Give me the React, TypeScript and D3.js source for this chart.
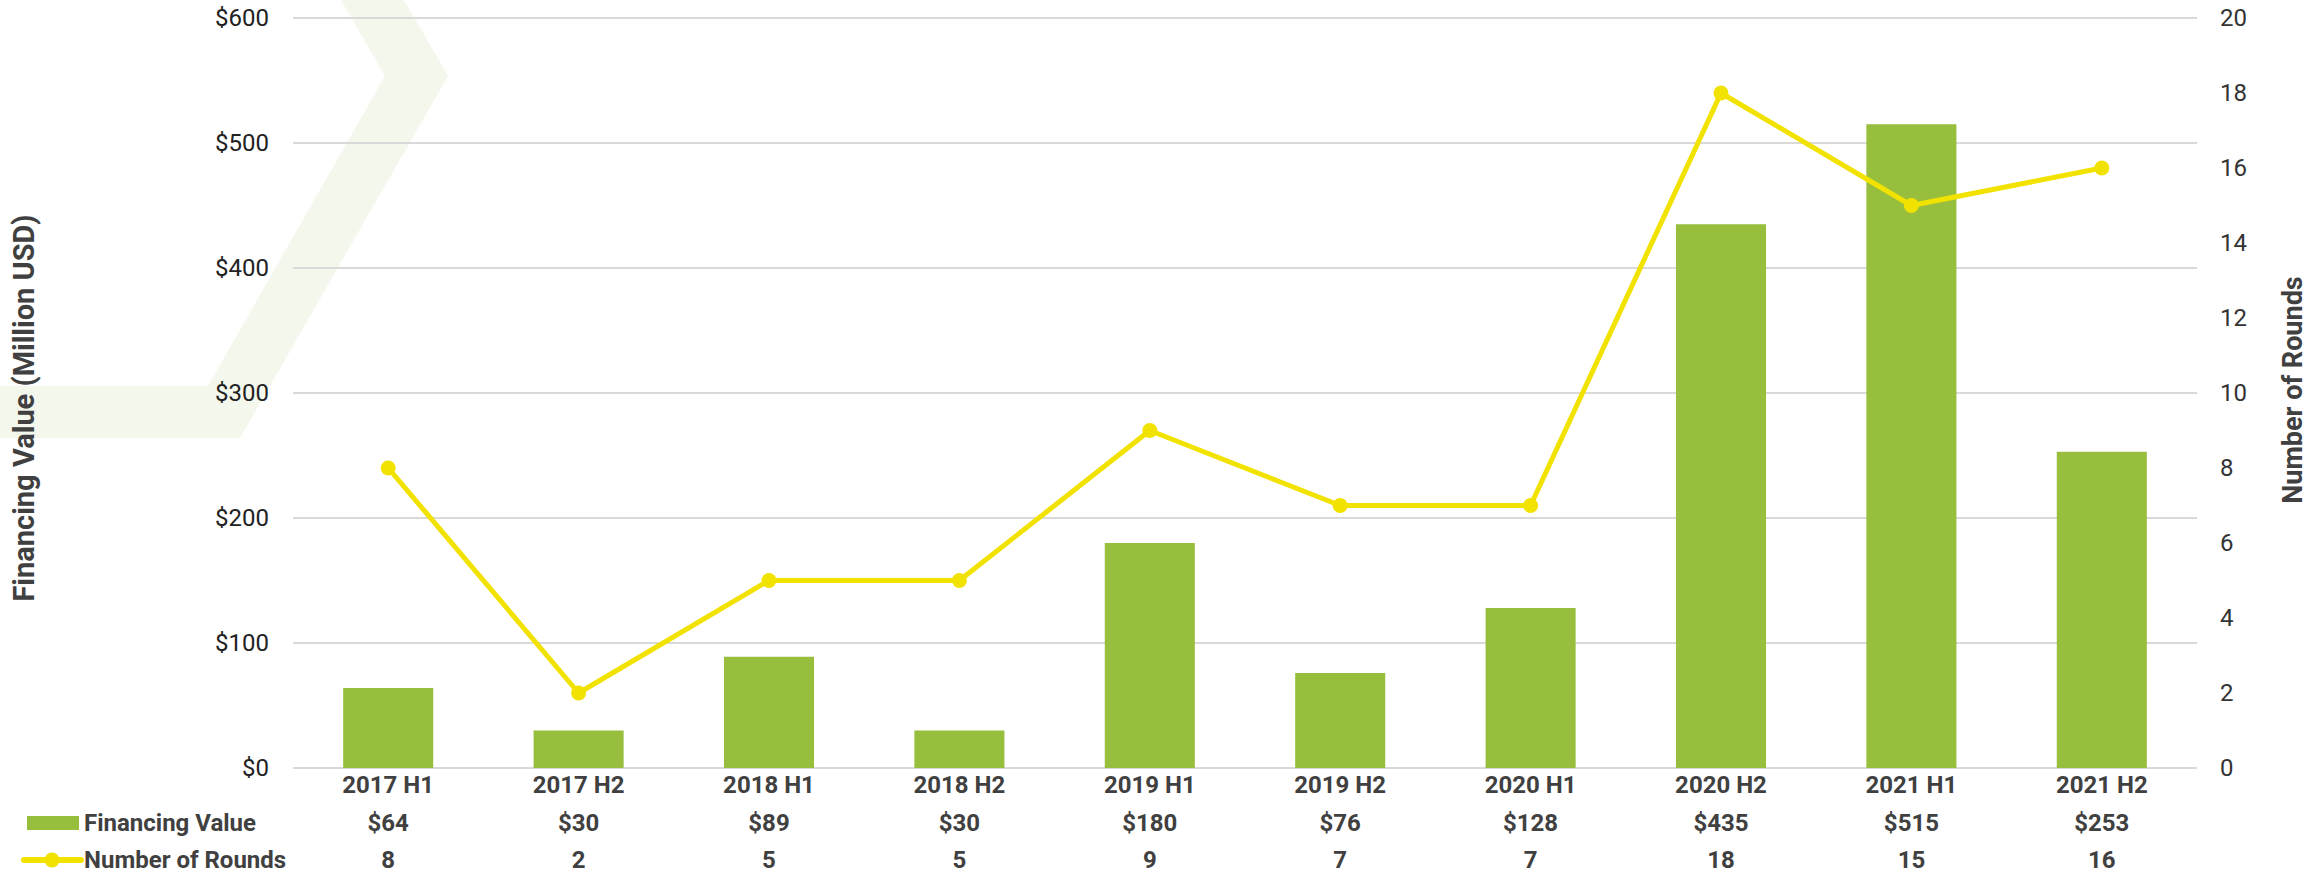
import React from "react";
import * as d3 from "d3";

const categories = ["2017 H1", "2017 H2", "2018 H1", "2018 H2", "2019 H1", "2019 H2", "2020 H1", "2020 H2", "2021 H1", "2021 H2"];
const financingValue = [64, 30, 89, 30, 180, 76, 128, 435, 515, 253];
const numberOfRounds = [8, 2, 5, 5, 9, 7, 7, 18, 15, 16];
const leftTicks = [0, 100, 200, 300, 400, 500, 600];
const rightTicks = [0, 2, 4, 6, 8, 10, 12, 14, 16, 18, 20];

const W = 2310;
const H = 873;
const X0 = 293;
const X1 = 2197;
const Y0 = 768;
const Y1 = 18;

const BAR = "#97BF3D";
const LINE = "#F2E200";
const TEXT = "#404040";
const FONT = "Roboto, 'Noto Sans', sans-serif";

export default function App() {
  const x = d3.scaleBand<string>().domain(categories).range([X0, X1]).paddingInner(0.527).paddingOuter(0.2635);
  const yL = d3.scaleLinear().domain([0, 600]).range([Y0, Y1]);
  const yR = d3.scaleLinear().domain([0, 20]).range([Y0, Y1]);
  const cx = (c: string) => (x(c) as number) + x.bandwidth() / 2;

  const line = d3
    .line<number>()
    .x((_, i) => cx(categories[i]))
    .y((d) => yR(d));

  const chevron = "M341,0 L404,0 L448,76 L240,438 L0,438 L0,386 L208,386 L385,76 Z";

  return (
    <svg
      width={W}
      height={H}
      style={{ position: "absolute", left: 0, top: 0, display: "block", background: "#fff" }}
      fontFamily={FONT}
    >
      <path d={chevron} fill="#F4F7EC" />

      {leftTicks.map((t) => (
        <line key={"g" + t} x1={X0} x2={X1} y1={yL(t)} y2={yL(t)} stroke="#D9D9D9" strokeWidth={2} />
      ))}

      {leftTicks.map((t) => (
        <text key={"l" + t} x={269} y={yL(t)} textAnchor="end" dominantBaseline="central" fontSize={24} fill="#222">
          {"$" + t}
        </text>
      ))}
      {rightTicks.map((t) => (
        <text key={"r" + t} x={2220} y={yR(t)} textAnchor="start" dominantBaseline="central" fontSize={24} fill="#333">
          {t}
        </text>
      ))}

      <text
        transform={`translate(24,408) rotate(-90)`}
        textAnchor="middle"
        dominantBaseline="central"
        fontSize={29}
        fontWeight="bold"
        fill={TEXT}
      >
        Financing Value (Million USD)
      </text>
      <text
        transform={`translate(2293,390) rotate(-90)`}
        textAnchor="middle"
        dominantBaseline="central"
        fontSize={27}
        fontWeight="bold"
        fill={TEXT}
      >
        Number of Rounds
      </text>

      {financingValue.map((v, i) => (
        <rect
          key={"b" + i}
          x={x(categories[i])}
          y={yL(v)}
          width={x.bandwidth()}
          height={Y0 - yL(v)}
          fill={BAR}
        />
      ))}

      <path d={line(numberOfRounds) || ""} fill="none" stroke={LINE} strokeWidth={5} strokeLinejoin="round" />
      {numberOfRounds.map((v, i) => (
        <circle key={"c" + i} cx={cx(categories[i])} cy={yR(v)} r={7.5} fill={LINE} />
      ))}

      {categories.map((c, i) => (
        <g key={"t" + i} fontWeight="bold" fill={TEXT} fontSize={24} textAnchor="middle">
          <text x={cx(c)} y={785} dominantBaseline="central">{c}</text>
          <text x={cx(c)} y={823} dominantBaseline="central">{"$" + financingValue[i]}</text>
          <text x={cx(c)} y={860} dominantBaseline="central">{numberOfRounds[i]}</text>
        </g>
      ))}

      <rect x={27} y={816} width={52} height={14} fill={BAR} />
      <text x={84} y={823} dominantBaseline="central" fontSize={24} fontWeight="bold" fill={TEXT}>
        Financing Value
      </text>
      <line x1={24} x2={81} y1={860} y2={860} stroke={LINE} strokeWidth={6} strokeLinecap="round" />
      <circle cx={52} cy={860} r={7.5} fill={LINE} />
      <text x={84} y={860} dominantBaseline="central" fontSize={24} fontWeight="bold" fill={TEXT}>
        Number of Rounds
      </text>
    </svg>
  );
}
